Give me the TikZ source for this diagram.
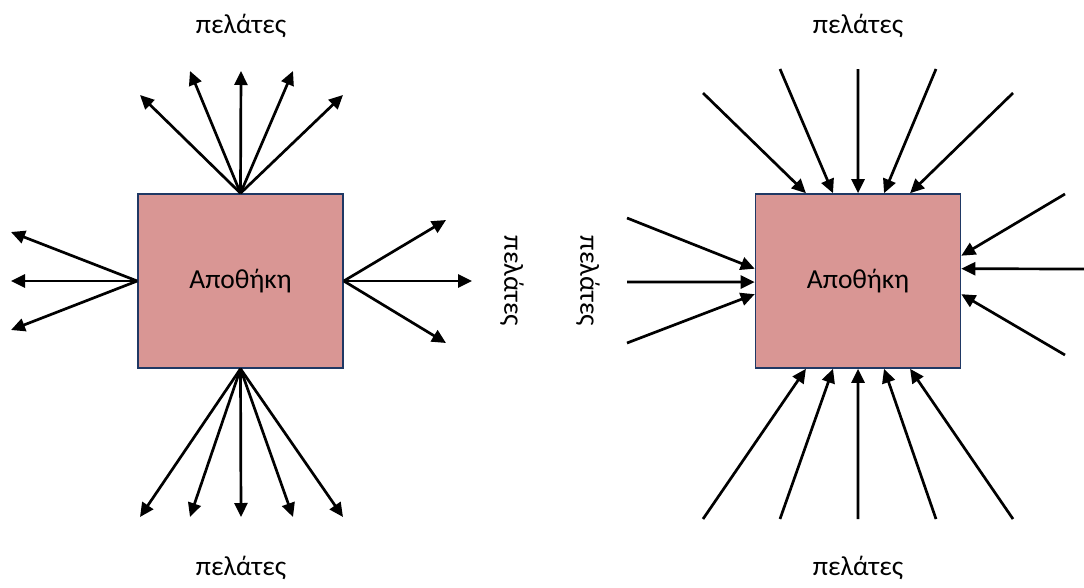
\documentclass[tikz,border=0pt]{standalone}
\usepackage{fontspec}
\setmainfont{Carlito}
\usetikzlibrary{arrows.meta,calc}
\definecolor{boxfill}{HTML}{D99694}
\definecolor{boxline}{HTML}{1F3864}
\tikzset{
  store/.style={draw=boxline, fill=boxfill, line width=1.6pt, minimum width=205pt, minimum height=174pt, inner sep=0pt, font=\fontsize{27.5}{32}\selectfont},
  lbl/.style={font=\fontsize{27.5}{32}\selectfont, inner sep=0pt},
  arr/.style={line width=2.7pt, -{Triangle[length=14pt,width=13pt]}},
}
\begin{document}
\begin{tikzpicture}[x=1pt,y=-1pt]
\useasboundingbox (0,0) rectangle (1084,587);
% left diagram
\node[store] (L) at (240.5,281) {Αποθήκη};
\node[lbl] (lt) at (241,26) {πελάτες};
\node[lbl] (lb) at (241,568) {πελάτες};
\node[lbl, rotate=-90] (lr) at (512,281) {πελάτες};
\coordinate (t1) at (140,95);
\coordinate (t2) at (190,71);
\coordinate (t3) at (241,71);
\coordinate (t4) at (293,71);
\coordinate (t5) at (343,95);
\coordinate (b1) at (140,517);
\coordinate (b2) at (190,517);
\coordinate (b3) at (241,517);
\coordinate (b4) at (293,517);
\coordinate (b5) at (343,517);
\coordinate (w1) at (11,232);
\coordinate (w2) at (11,281);
\coordinate (w3) at (11,330);
\coordinate (e1) at (446,220);
\coordinate (e2) at (472,281);
\coordinate (e3) at (446,343);
\foreach \p in {t1,t2,t3,t4,t5} \draw[arr] (L.north) -- (\p);
\foreach \p in {b1,b2,b3,b4,b5} \draw[arr] (L.south) -- (\p);
\foreach \p in {w1,w2,w3} \draw[arr] (L.west) -- (\p);
\foreach \p in {e1,e2,e3} \draw[arr] (L.east) -- (\p);
% right diagram
\node[store] (R) at (858,281) {Αποθήκη};
\node[lbl] (rt) at (858,26) {πελάτες};
\node[lbl] (rb) at (858,568) {πελάτες};
\node[lbl, rotate=-90] (rl) at (588,281) {πελάτες};
\coordinate (s1) at (703,93);
\coordinate (s2) at (780,69);
\coordinate (s3) at (858,69);
\coordinate (s4) at (936,69);
\coordinate (s5) at (1013,93);
\coordinate (u1) at (703,519);
\coordinate (u2) at (780,519);
\coordinate (u3) at (858,519);
\coordinate (u4) at (936,519);
\coordinate (u5) at (1013,519);
\coordinate (v1) at (627,218);
\coordinate (v2) at (627,282);
\coordinate (v3) at (627,343);
\coordinate (z1) at (1065,194);
\coordinate (z2) at (1084,269);
\coordinate (z3) at (1065,355);
\foreach \p/\f in {s1/0.248,s2/0.379,s3/0.5,s4/0.626,s5/0.752}
  \draw[arr] (\p) -- ($(R.north west)!\f!(R.north east)$);
\foreach \p/\f in {u1/0.248,u2/0.379,u3/0.5,u4/0.626,u5/0.752}
  \draw[arr] (\p) -- ($(R.south west)!\f!(R.south east)$);
\foreach \p/\f in {v1/0.43,v2/0.506,v3/0.575}
  \draw[arr] (\p) -- ($(R.north west)!\f!(R.south west)$);
\foreach \p/\f in {z1/0.356,z2/0.43,z3/0.575}
  \draw[arr] (\p) -- ($(R.north east)!\f!(R.south east)$);
\end{tikzpicture}
\end{document}
